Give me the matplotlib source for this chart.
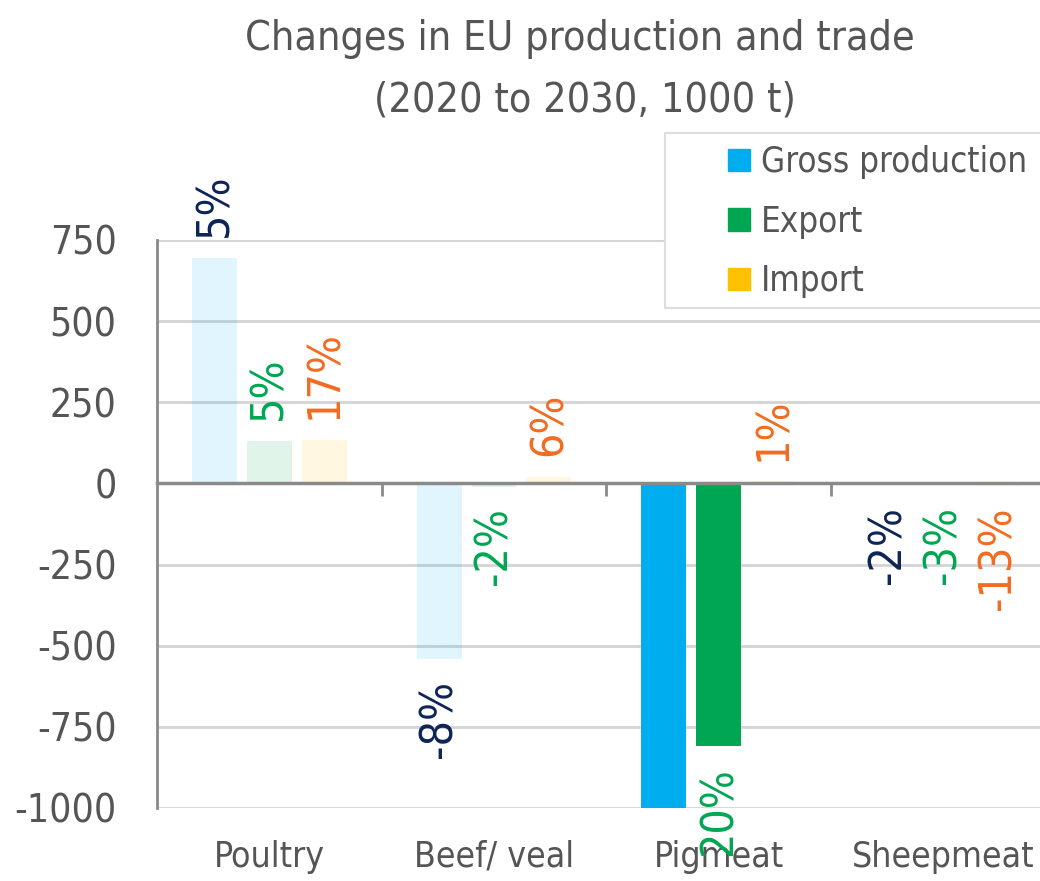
import numpy as np
import matplotlib.pyplot as plt
from matplotlib.patches import Rectangle

plt.rcParams['font.family'] = ['DejaVu Sans']
plt.rcParams['font.stretch'] = 'condensed'
plt.rcParams['axes.unicode_minus'] = False

# data (1000 t, change 2020 -> 2030)
categories = ['Poultry', 'Beef/ veal', 'Pigmeat', 'Sheepmeat']
series = ['Gross production', 'Export', 'Import']
gross = [695, -542, -1000, -6]
export = [132, -10, -810, -4]
imports = [135, 20, 6, -8]
gross_pct = ['5%', '-8%', '', '-2%']
export_pct = ['5%', '-2%', '20%', '-3%']
import_pct = ['17%', '6%', '1%', '-13%']
# only pigmeat production / export are drawn at full colour
highlight = [[False, False, True, False],
             [False, False, True, False],
             [False, False, False, False]]

bar_colors = ['#00AEEF', '#00A651', '#FFC000']
label_colors = ['#0E2356', '#00A651', '#F26B21']
TXT = '#555555'

fig = plt.figure(figsize=(10.4, 8.81), dpi=100)
ax = fig.add_axes([0.151, 0.0829, 0.864, 0.6447])

x = np.arange(len(categories))
width = 0.2
step = 0.244
values = [gross, export, imports]
pcts = [gross_pct, export_pct, import_pct]

for i in range(3):
    pos = x + (i - 1) * step
    for j in range(len(categories)):
        a = 1.0 if highlight[i][j] else 0.12
        ax.bar(pos[j], values[i][j], width, color=bar_colors[i], alpha=a, zorder=3)
        if pcts[i][j] == '':
            continue
        v = values[i][j]
        off = 15 if v >= 0 else -15
        ax.annotate(pcts[i][j], (pos[j], v), xytext=(0, off), textcoords='offset points',
                    rotation=90, ha='center', va='bottom' if v >= 0 else 'top',
                    color=label_colors[i], fontsize=32, annotation_clip=False, zorder=5)

ax.set_xlim(-0.5, 3.5)
ax.set_ylim(-1000, 750)
ax.set_yticks([750, 500, 250, 0, -250, -500, -750, -1000])
ax.tick_params(axis='y', length=0, pad=29, labelsize=28, labelcolor=TXT)
ax.grid(axis='y', color='#d4d4d4', linewidth=2, zorder=0)
for s in ['top', 'right']:
    ax.spines[s].set_visible(False)
ax.spines['left'].set_color('#8a8a8a')
ax.spines['left'].set_linewidth(2)
ax.spines['bottom'].set_position(('data', 0))
ax.spines['bottom'].set_color('#8a8a8a')
ax.spines['bottom'].set_linewidth(2.5)
ax.spines['bottom'].set_zorder(4)
ax.set_xticks(x[:-1] + 0.5)
ax.set_xticklabels([])
ax.tick_params(axis='x', length=9, width=2, color='#8a8a8a', direction='out')

sec = ax.secondary_xaxis(0)
sec.set_xticks(x)
sec.set_xticklabels(categories)
sec.tick_params(length=0, pad=23, labelsize=25.5, labelcolor=TXT)
sec.spines['bottom'].set_visible(False)

fig.text(0.558, 0.956, 'Changes in EU production and trade', ha='center', va='center',
         fontsize=29.5, color=TXT)
fig.text(0.562, 0.886, '(2020 to 2030, 1000 t)', ha='center', va='center',
         fontsize=29.5, color=TXT)

# legend box
fig.patches.append(Rectangle((665 / 1040, 1 - 308 / 881), 400 / 1040, 175 / 881,
                             transform=fig.transFigure, facecolor='white',
                             edgecolor='#dddddd', linewidth=1.5, zorder=6))
handles = [Rectangle((0, 0), 1, 1, color=c) for c in bar_colors]
leg = fig.legend(handles, series, loc='upper left', bbox_to_anchor=(728 / 1040, 1 - 145 / 881),
                 frameon=False, fontsize=25, handlelength=0.62, handleheight=0.62,
                 handletextpad=0.32, labelspacing=0.74, labelcolor=TXT,
                 borderpad=0, borderaxespad=0)
leg.set_zorder(7)

fig.savefig('out.png', dpi=100)
